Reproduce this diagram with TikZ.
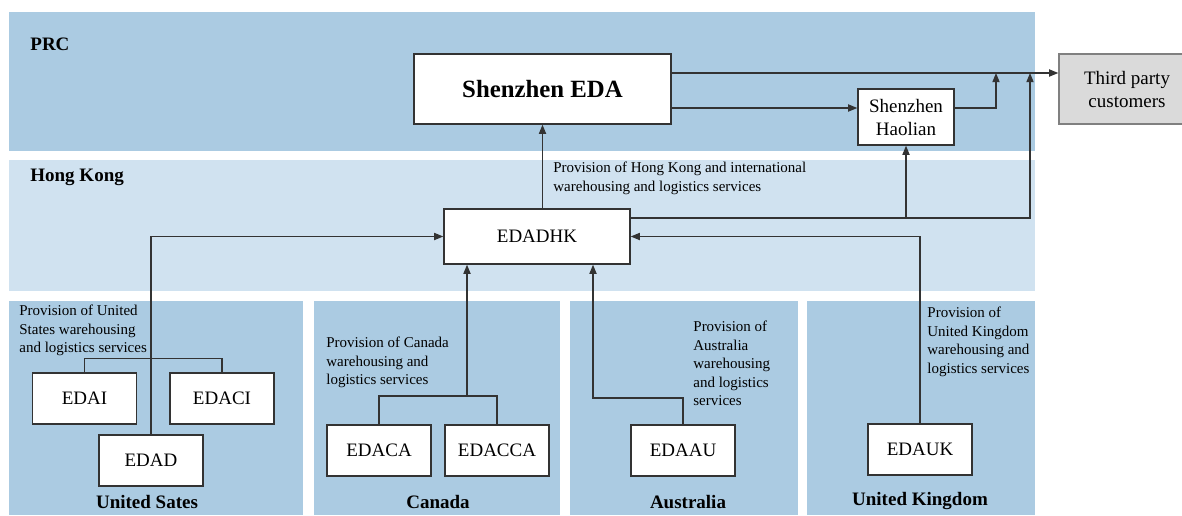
\documentclass[tikz,border=0pt]{standalone}
\usepackage{fontspec}
\setmainfont{Liberation Serif}
\usetikzlibrary{arrows.meta,positioning,calc}
\definecolor{prcblue}{RGB}{171,203,226}
\definecolor{hkblue}{RGB}{208,226,240}
\definecolor{custgray}{RGB}{218,218,218}
\definecolor{linegray}{RGB}{51,51,51}

\begin{document}
\begin{tikzpicture}[x=0.5pt,y=-0.5pt,
    box/.style={draw=linegray,line width=0.7pt,fill=white,inner sep=0pt,align=center,font=\fontsize{9.5}{11.5}\selectfont},
    cbox/.style={box,minimum width=52pt,minimum height=25.5pt},
    arr/.style={-{Triangle[length=4.6pt,width=3.6pt]},draw=linegray,line width=0.6pt},
    link/.style={draw=linegray,line width=0.6pt},
    note/.style={anchor=north west,align=left,inner sep=0pt,font=\fontsize{7.5}{9.2}\selectfont},
    region/.style={inner sep=0pt,font=\fontsize{9.5}{11}\bfseries\selectfont}]
    \useasboundingbox (0,0) rectangle (1182,515);

    % Bands
    \fill[prcblue] (9,12) rectangle (1035,151);
    \fill[hkblue] (9,160) rectangle (1035,291);
    \foreach \l/\r in {9/303,314/560,570/798,807/1035} {
        \fill[prcblue] (\l,301) rectangle (\r,515);
    }

    % Region labels
    \node[region,anchor=west] (prc) at (30,44) {PRC};
    \node[region,anchor=west] (hkl) at (30,177) {Hong Kong};
    \node[region] (usl) at (147,502) {United Sates};
    \node[region] (cal) at (438,502) {Canada};
    \node[region] (aul) at (688,502) {Australia};
    \node[region] (ukl) at (920,501) {United Kingdom};

    % Main nodes
    \node[box,minimum width=128.5pt,minimum height=35pt,font=\fontsize{12.4}{14}\bfseries\selectfont] (sz) at (542.5,89) {Shenzhen EDA};
    \node[box,minimum width=48pt,minimum height=28pt] (hl) at (906,117) {Shenzhen\\Haolian};
    \node[box,fill=custgray,draw=gray,minimum width=68pt,minimum height=35pt] (tp) at (1127,89) {Third party\\customers};
    \node[box,minimum width=93pt,minimum height=27.5pt] (hk) at (537,236.5) {EDADHK};

    % Subsidiaries
    \foreach \n/\t/\x/\y in {edai/EDAI/84.5/398.5,edaci/EDACI/222/398.5,edad/EDAD/151/460.5,
        edaca/EDACA/379/450.5,edacca/EDACCA/497/450.5,edaau/EDAAU/683/450.5,edauk/EDAUK/920/449.5} {
        \node[cbox] (\n) at (\x,\y) {\t};
    }

    % Notes
    \node[note] (hknote) at (553,162) {Provision of Hong Kong and international\\warehousing and logistics services};
    \node[note] (usnote) at (19,305) {Provision of United\\States warehousing\\and logistics services};
    \node[note] (canote) at (326,337) {Provision of Canada\\warehousing and\\logistics services};
    \node[note] (aunote) at (693,321) {Provision of\\Australia\\warehousing\\and logistics\\services};
    \node[note] (uknote) at (927,307) {Provision of\\United Kingdom\\warehousing and\\logistics services};

    % PRC connections
    \coordinate (mergeA) at (996,73);
    \coordinate (mergeB) at (1030,73);
    \draw[arr] ([yshift=8pt]sz.east) -- ([yshift=8pt]tp.west);
    \draw[arr] ([yshift=-9.5pt]sz.east) -- ([yshift=-9.5pt]sz.east -| hl.west);
    \draw[arr] ([yshift=4.5pt]hl.east) -| (mergeA);
    \draw[arr] ([yshift=9.25pt]hk.east) -| (mergeB);
    \draw[arr] ([yshift=9.25pt]hk.east -| hl.south) -- (hl.south);
    \draw[arr] (hk.north -| sz.south) -- (sz.south);

    % Country connections
    \draw[link] (edai.north) -- ++(0,-14) -| (edaci.north);
    \draw[arr] (edad.north) |- (hk.west);
    \coordinate (caj) at (467,396);
    \draw[link] (edaca.north) |- (caj) -| (edacca.north);
    \draw[arr] (caj) -- (caj |- hk.south);
    \coordinate (auj) at (593,398);
    \draw[arr] (edaau.north) |- (auj) -- (auj |- hk.south);
    \draw[arr] (edauk.north) |- (hk.east);
\end{tikzpicture}
\end{document}
